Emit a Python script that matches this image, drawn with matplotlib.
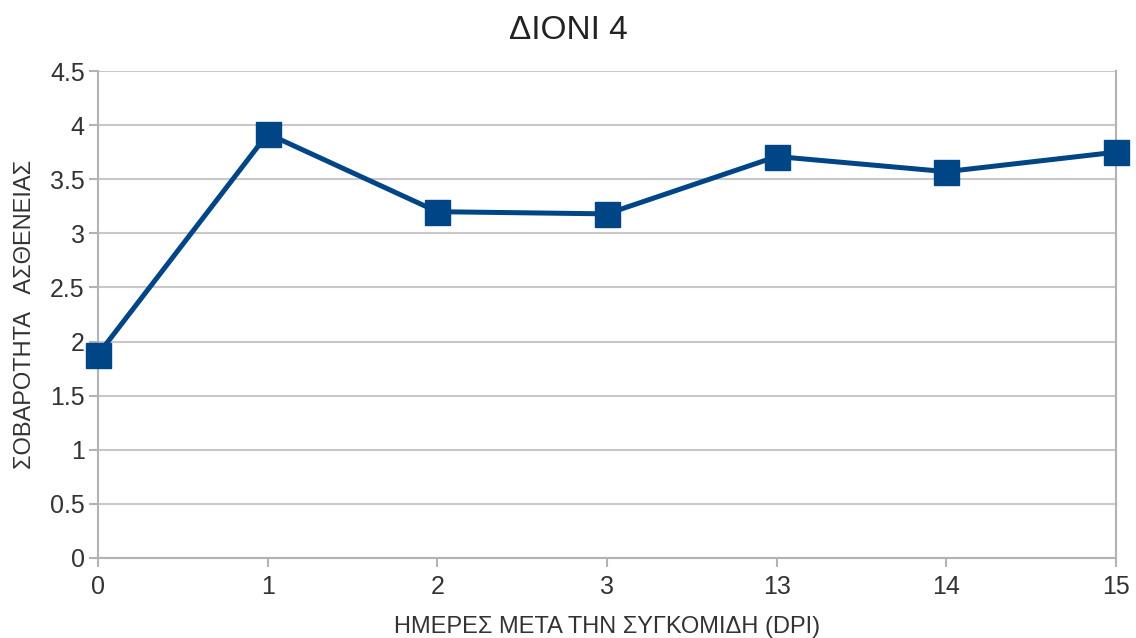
import matplotlib.pyplot as plt

plt.rcParams['font.family'] = ['Liberation Sans', 'DejaVu Sans']

categories = ['0', '1', '2', '3', '13', '14', '15']
values = [1.88, 3.92, 3.20, 3.18, 3.71, 3.57, 3.75]

fig = plt.figure(figsize=(11.36, 6.38), dpi=100)
ax = fig.add_axes([0.0863, 0.1254, 0.8961, 0.7633])

x = list(range(len(categories)))
ax.plot(x, values, color='#004586', linewidth=3.6, marker='s', markersize=18,
        markeredgecolor='#004586', clip_on=False, zorder=3)

ax.set_xlim(0, len(categories) - 1)
ax.set_ylim(0, 4.5)
ax.set_xticks(x)
ax.set_xticklabels(categories)
ax.set_yticks([0, 0.5, 1, 1.5, 2, 2.5, 3, 3.5, 4, 4.5])
ax.set_yticklabels(['0', '0.5', '1', '1.5', '2', '2.5', '3', '3.5', '4', '4.5'])
ax.grid(axis='y', color='#c8c8c8', linewidth=1.5)
ax.set_axisbelow(True)
for s in ['left', 'right', 'bottom']:
    ax.spines[s].set_color('#b3b3b3')
    ax.spines[s].set_linewidth(1.5)
ax.spines['top'].set_visible(False)
ax.tick_params(axis='both', colors='#b3b3b3', length=6.5, width=1.5, labelsize=18,
               labelcolor='#333333')
ax.tick_params(axis='x', pad=6)
ax.tick_params(axis='y', pad=3)

# title is centred on the whole figure, not on the plot area
fig.suptitle('ΔΙΟΝΙ 4', fontsize=24, color='#222222', x=0.5, y=0.977, va='top')
ax.set_xlabel('ΗΜΕΡΕΣ ΜΕΤΑ ΤΗΝ ΣΥΓΚΟΜΙΔΗ (DPI)', fontsize=17, color='#333333', labelpad=12)
ax.set_ylabel('ΣΟΒΑΡΟΤΗΤΑ   ΑΣΘΕΝΕΙΑΣ', fontsize=17, color='#333333', labelpad=10)

fig.savefig('out.png', dpi=100)
